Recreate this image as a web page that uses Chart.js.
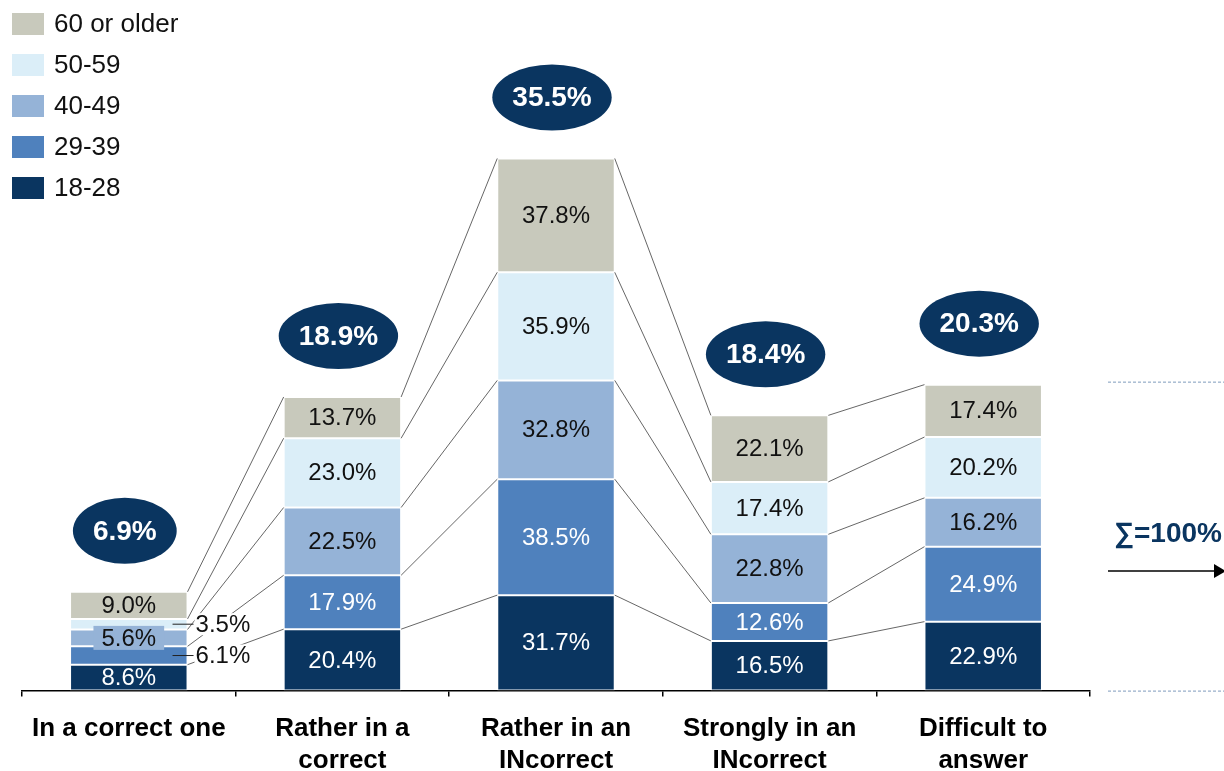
<!DOCTYPE html>
<html>
<head>
<meta charset="utf-8">
<script src="https://cdn.jsdelivr.net/npm/chart.js@4.4.1/dist/chart.umd.min.js"></script>
<style>
  html, body { margin: 0; padding: 0; background: #fff; overflow: hidden; }
  #wrap { position: relative; width: 1224px; height: 793px; }
</style>
</head>
<body>
<div id="wrap"><canvas id="ageChart"></canvas></div>
<script>
// Categories (answers) and age groups
const categories = [
    ['In a correct one'],
    ['Rather in a', 'correct'],
    ['Rather in an', 'INcorrect'],
    ['Strongly in an', 'INcorrect'],
    ['Difficult to', 'answer']
];
const ageGroups = ['18-28', '29-39', '40-49', '50-59', '60 or older'];

// Share of each age group within an answer (%)
const age18to28 = [8.6, 20.4, 31.7, 16.5, 22.9];
const age29to39 = [6.1, 17.9, 38.5, 12.6, 24.9];
const age40to49 = [5.6, 22.5, 32.8, 22.8, 16.2];
const age50to59 = [3.5, 23.0, 35.9, 17.4, 20.2];
const age60plus = [9.0, 13.7, 37.8, 22.1, 17.4];

// Share of all respondents giving each answer (%)
const answerShare = [6.9, 18.9, 35.5, 18.4, 20.3];

const colors = ['#0a3560', '#4f81bd', '#95b3d7', '#dbeef8', '#c8c9bc'];
const textColors = ['#fff', '#fff', '#111', '#111', '#111'];
const FONT = '"Liberation Sans", Arial, sans-serif';
const NAVY = '#0a3560';

// labels drawn outside the first bar: datasetIndex-categoryIndex
const outsideLabels = ['1-0', '3-0'];

const seriesValues = [age18to28, age29to39, age40to49, age50to59, age60plus];

const datasets = seriesValues.map(function(values, i) {
    return {
        label: ageGroups[i],
        data: values,
        backgroundColor: colors[i],
        borderColor: '#fff',
        borderWidth: 1,
        borderSkipped: false,
        barPercentage: 0.55,
        categoryPercentage: 1.0
    };
});

const decorPlugin = {
    id: 'decor',
    afterDatasetsDraw(chart) {
        const ctx = chart.ctx;
        const area = chart.chartArea;
        const metas = chart.data.datasets.map((d, i) => chart.getDatasetMeta(i));

        // connector lines between segment boundaries of neighbouring bars
        ctx.save();
        ctx.strokeStyle = '#555';
        ctx.lineWidth = 0.9;
        metas.forEach(function(meta) {
            for (let j = 0; j < meta.data.length - 1; j++) {
                const a = meta.data[j], b = meta.data[j + 1];
                ctx.beginPath();
                ctx.moveTo(a.x + a.width / 2, a.y);
                ctx.lineTo(b.x - b.width / 2, b.y);
                ctx.stroke();
            }
        });
        ctx.restore();

        // segment value labels
        ctx.save();
        ctx.font = '24px ' + FONT;
        ctx.textBaseline = 'middle';
        metas.forEach(function(meta, i) {
            meta.data.forEach(function(bar, j) {
                const value = chart.data.datasets[i].data[j];
                const txt = value.toFixed(1) + '%';
                const cy = (bar.y + bar.base) / 2;
                const tw = ctx.measureText(txt).width;
                if (outsideLabels.indexOf(i + '-' + j) >= 0) {
                    const right = bar.x + bar.width / 2;
                    ctx.fillStyle = '#fff';
                    ctx.fillRect(right + 7, cy - 11, tw + 4, 22);
                    ctx.strokeStyle = '#222';
                    ctx.lineWidth = 1;
                    ctx.beginPath();
                    ctx.moveTo(right - 15, cy);
                    ctx.lineTo(right + 6, cy);
                    ctx.stroke();
                    ctx.fillStyle = '#111';
                    ctx.textAlign = 'left';
                    ctx.fillText(txt, right + 8, cy + 1);
                } else {
                    const h = bar.base - bar.y;
                    if (h < 22) {
                        ctx.fillStyle = colors[i];
                        ctx.fillRect(bar.x - tw / 2 - 8, cy - 12, tw + 16, 24);
                    }
                    ctx.fillStyle = textColors[i];
                    ctx.textAlign = 'center';
                    ctx.fillText(txt, bar.x, cy + 1);
                }
            });
        });
        ctx.restore();

        // total share ellipses above the bars
        ctx.save();
        const top = metas[metas.length - 1];
        ctx.font = 'bold 28px ' + FONT;
        ctx.textAlign = 'center';
        ctx.textBaseline = 'middle';
        top.data.forEach(function(bar, j) {
            const txt = answerShare[j].toFixed(1) + '%';
            const tw = ctx.measureText(txt).width;
            const cx = bar.x - 4;
            const cy = bar.y - 61;
            ctx.fillStyle = NAVY;
            ctx.beginPath();
            ctx.ellipse(cx, cy, tw / 2 + 20, 33, 0, 0, Math.PI * 2);
            ctx.fill();
            ctx.fillStyle = '#fff';
            ctx.fillText(txt, cx, cy + 1);
        });
        ctx.restore();

        // right hand note: sum = 100%
        ctx.save();
        const lastBar = top.data[top.data.length - 1];
        const x0 = area.right + 18;
        const yTop = lastBar.y - 3;
        const yBot = area.bottom;
        ctx.strokeStyle = '#7f9bbd';
        ctx.lineWidth = 1;
        ctx.setLineDash([3, 2]);
        [yTop, yBot].forEach(function(y) {
            ctx.beginPath();
            ctx.moveTo(x0, y + 0.5);
            ctx.lineTo(chart.width, y + 0.5);
            ctx.stroke();
        });
        ctx.setLineDash([]);
        const mid = (yTop + yBot) / 2;
        ctx.fillStyle = NAVY;
        ctx.font = 'bold 28px ' + FONT;
        ctx.textAlign = 'left';
        ctx.textBaseline = 'middle';
        ctx.fillText('\u2211=100%', x0 + 6, mid - 2);
        ctx.strokeStyle = '#000';
        ctx.lineWidth = 1.5;
        ctx.beginPath();
        ctx.moveTo(x0, mid + 35);
        ctx.lineTo(chart.width - 8, mid + 35);
        ctx.stroke();
        ctx.fillStyle = '#000';
        ctx.beginPath();
        ctx.moveTo(chart.width - 10, mid + 28);
        ctx.lineTo(chart.width + 2, mid + 35);
        ctx.lineTo(chart.width - 10, mid + 42);
        ctx.closePath();
        ctx.fill();
        ctx.restore();

        // legend, oldest group on top
        ctx.save();
        ctx.font = '26px ' + FONT;
        ctx.textAlign = 'left';
        ctx.textBaseline = 'middle';
        for (let k = 0; k < ageGroups.length; k++) {
            const i = ageGroups.length - 1 - k;
            const cy = 24 + k * 41;
            ctx.fillStyle = colors[i];
            ctx.fillRect(12, cy - 11, 32, 22);
            ctx.fillStyle = '#111';
            ctx.fillText(ageGroups[i], 54, cy + 1);
        }
        ctx.restore();
    }
};

const ctx = document.getElementById('ageChart').getContext('2d');

new Chart(ctx, {
    type: 'bar',
    data: {
        labels: categories,
        datasets: datasets
    },
    options: {
        responsive: true,
        maintainAspectRatio: false,
        animation: false,
        layout: {
            padding: { top: 10, left: 22, right: 134, bottom: 0 }
        },
        plugins: {
            legend: { display: false },
            tooltip: { enabled: false }
        },
        scales: {
            x: {
                stacked: true,
                offset: true,
                border: { display: true, color: '#000', width: 1.5 },
                grid: {
                    display: true,
                    drawOnChartArea: false,
                    drawTicks: true,
                    tickLength: 6,
                    color: '#000',
                    lineWidth: 1.5,
                    offset: true
                },
                ticks: {
                    color: '#000',
                    padding: 17,
                    maxRotation: 0,
                    autoSkip: false,
                    font: { family: FONT, size: 26, weight: 'bold', lineHeight: 1.2 }
                }
            },
            y: {
                stacked: true,
                display: false,
                min: 0,
                max: 226
            }
        }
    },
    plugins: [decorPlugin]
});
</script>
</body>
</html>
